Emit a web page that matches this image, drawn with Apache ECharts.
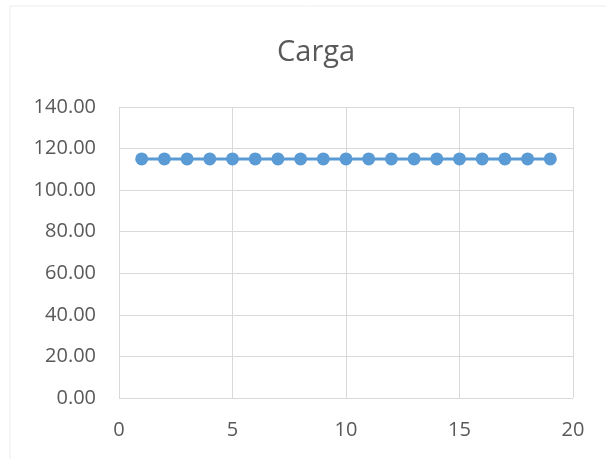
<!DOCTYPE html>
<html>
<head>
<meta charset="utf-8">
<script src="https://cdn.jsdelivr.net/npm/echarts@6/dist/echarts.min.js"></script>
<style>
  html, body { margin: 0; padding: 0; background: #fff; }
  #chart { width: 606px; height: 459px; }
</style>
</head>
<body>
<div id="chart"></div>
<script>
// Load readings (x = sample index, y = load)
const xValues = [1, 2, 3, 4, 5, 6, 7, 8, 9, 10, 11, 12, 13, 14, 15, 16, 17, 18, 19];
const cargaValues = [115, 115, 115, 115, 115, 115, 115, 115, 115, 115, 115, 115, 115, 115, 115, 115, 115, 115, 115];
const chartTitle = 'Carga';

const font = '"Open Sans", "Noto Sans", sans-serif';
const chart = echarts.init(document.getElementById('chart'), null, { renderer: 'canvas' });

chart.setOption({
  animation: false,
  backgroundColor: '#ffffff',
  title: {
    text: chartTitle,
    left: 272,
    top: 33,
    textStyle: { fontFamily: font, fontSize: 29, fontWeight: 'normal', color: '#595959' }
  },
  graphic: [{
    type: 'rect',
    shape: { x: 10, y: 6, width: 600, height: 460 },
    style: { fill: 'none', stroke: '#ededed', lineWidth: 1 },
    silent: true
  }],
  grid: { left: 119, right: 33, top: 107, bottom: 61 },
  xAxis: {
    type: 'value',
    min: 0, max: 20, interval: 5,
    axisLine: { show: false },
    axisTick: { show: false },
    splitLine: { show: true, lineStyle: { color: '#d9d9d9', width: 1 } },
    axisLabel: { fontFamily: font, fontSize: 20, color: '#595959', margin: 22 }
  },
  yAxis: {
    type: 'value',
    min: 0, max: 140, interval: 20,
    axisLine: { show: false },
    axisTick: { show: false },
    splitLine: { show: true, lineStyle: { color: '#d9d9d9', width: 1 } },
    axisLabel: {
      fontFamily: font, fontSize: 20, color: '#595959', margin: 23,
      formatter: v => v.toFixed(2)
    }
  },
  series: [{
    type: 'line',
    data: xValues.map((x, i) => [x, cargaValues[i]]),
    symbol: 'circle',
    symbolSize: 13,
    itemStyle: { color: '#5b9bd5' },
    lineStyle: { color: '#5b9bd5', width: 3 }
  }]
});
</script>
</body>
</html>
